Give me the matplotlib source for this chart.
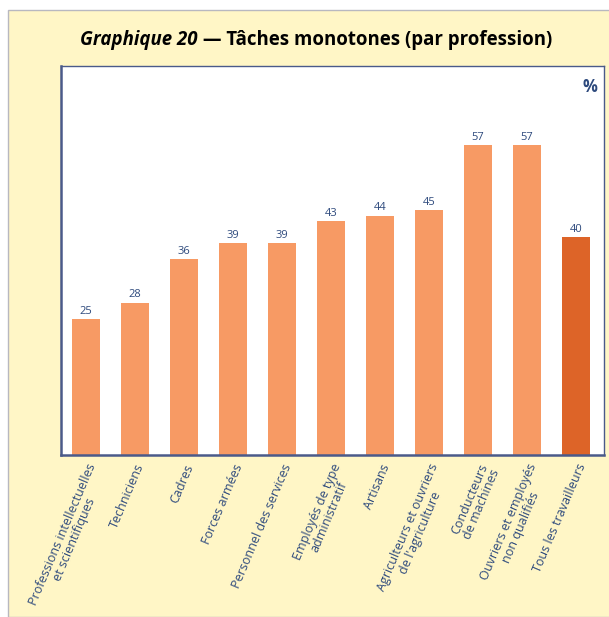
import matplotlib as mpl
from matplotlib import pyplot as plt
from matplotlib.patches import Rectangle
import numpy as np

mpl.rcParams['font.family'] = ['Open Sans', 'DejaVu Sans']

# data
labels = ["Professions intellectuelles\net scientifiques", "Techniciens", "Cadres",
          "Forces armées", "Personnel des services", "Employés de type\nadministratif",
          "Artisans", "Agriculteurs et ouvriers\nde l'agriculture", "Conducteurs\nde machines",
          "Ouvriers et employés\nnon qualifiés", "Tous les travailleurs"]
values = [25, 28, 36, 39, 39, 43, 44, 45, 57, 57, 40]

blue = '#2E4A7D'
bar_col = '#F79A64'
total_col = '#DD6428'

W, H = 609, 617
fig = plt.figure(figsize=(W/100, H/100), dpi=100)
fig.patch.set_facecolor('white')

# yellow panel
panel = Rectangle((8/W, 0), 1, 1 - 10/H, transform=fig.transFigure,
                  facecolor='#FFF6C6', edgecolor='#B8B8C0', linewidth=1.0, zorder=-10)
fig.patches.append(panel)

ax = fig.add_axes([61/W, 1 - 455/H, 543/W, 389/H])
ax.set_facecolor('white')

x = np.arange(len(values))
cols = [bar_col]*(len(values)-1) + [total_col]
ax.bar(x, values, width=0.57, color=cols, zorder=2)
for xi, v in zip(x, values):
	ax.text(xi, v + 0.4, str(v), ha='center', va='bottom', fontsize=8, color=blue)

ax.set_xlim(-0.51, 10.57)
ax.set_ylim(0, 71.5)
ax.set_yticks([])
ax.set_xticks(x)
ax.set_xticklabels(labels, rotation=67, ha='right', rotation_mode='anchor',
                   multialignment='center', fontsize=9, color=blue, linespacing=1.0)
ax.tick_params(axis='x', length=0, pad=5)

for s in ['top', 'right']:
	ax.spines[s].set_color('#4A5A8A')
	ax.spines[s].set_linewidth(1.0)
for s in ['left', 'bottom']:
	ax.spines[s].set_color('#4A5A8A')
	ax.spines[s].set_linewidth(1.8)

ax.text(0.988, 0.97, '%', transform=ax.transAxes, ha='right', va='top',
        fontsize=12, fontweight='bold', color=blue)

# title: italic part + bold part
fig.canvas.draw()
r = fig.canvas.get_renderer()
t1 = fig.text(80/W, 1 - 40/H, 'Graphique 20', fontsize=13.4, fontstyle='italic',
              fontweight='bold', va='center', ha='left', color='black')
bb = t1.get_window_extent(renderer=r)
x2 = fig.transFigure.inverted().transform((bb.x1, 0))[0]
fig.text(x2, 1 - 40/H, ' — Tâches monotones (par profession)', fontsize=13.4,
         fontweight='bold', va='center', ha='left', color='black')

plt.savefig('out.png', dpi=100)
